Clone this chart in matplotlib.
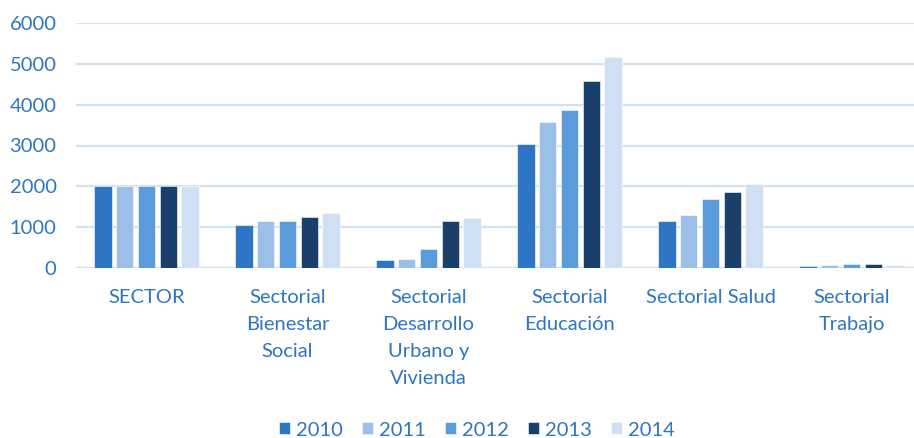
import matplotlib
matplotlib.use("Agg")
import matplotlib.pyplot as plt
import numpy as np

categories = ["SECTOR", "Sectorial\nBienestar\nSocial", "Sectorial\nDesarrollo\nUrbano y\nVivienda",
              "Sectorial\nEducación", "Sectorial Salud", "Sectorial\nTrabajo"]
years = ["2010", "2011", "2012", "2013", "2014"]
v2010 = [2000, 1060, 205, 3040, 1160, 55]
v2011 = [2000, 1150, 220, 3570, 1300, 80]
v2012 = [2000, 1145, 455, 3860, 1680, 100]
v2013 = [2000, 1255, 1150, 4570, 1870, 90]
v2014 = [2000, 1340, 1235, 5160, 2060, 75]
series = [v2010, v2011, v2012, v2013, v2014]
colors = ["#2E75C5", "#9BBFE7", "#5B9ADB", "#1B3F6B", "#CFE0F4"]
yticks = [0, 1000, 2000, 3000, 4000, 5000, 6000]

text_color = "#2F75C2"
plt.rcParams['font.family'] = ['Lato', 'DejaVu Sans']
fs = 14.5

fig = plt.figure(figsize=(9.14, 4.38), dpi=100)
W, H = 914, 438
left, right = 76, 922
bottom, top = 268, 23
ax = fig.add_axes([left / W, 1 - bottom / H, (right - left) / W, (bottom - top) / H])

x = np.arange(len(categories))
bw = 0.122
step = 0.154
for i, (vals, c, yr) in enumerate(zip(series, colors, years)):
    ax.bar(x + (i - 2) * step, vals, width=bw, color=c, label=yr, zorder=3,
           edgecolor="white", linewidth=0.4)

ax.set_xlim(-0.5, len(categories) - 0.5)
ax.set_ylim(0, 6000)
ax.set_yticks(yticks)
ax.set_yticklabels([str(t) for t in yticks], fontsize=fs, color=text_color)
ax.set_xticks(x)
ax.set_xticklabels(categories, fontsize=fs, color=text_color, linespacing=1.72, va="top")
ax.tick_params(axis="both", length=0)
ax.tick_params(axis="x", pad=15)
ax.tick_params(axis="y", pad=14)
ax.grid(axis="y", color="#D3E2F3", linewidth=1.6, zorder=0)
for s in ax.spines.values():
    s.set_visible(False)
ax.axhline(0, color="#D3E2F3", linewidth=1.6, zorder=2)

leg = fig.legend(loc="center", bbox_to_anchor=(477 / W, 1 - 430 / H), ncol=5, frameon=False,
                 fontsize=fs, handlelength=0.55, handleheight=0.55, handletextpad=0.3,
                 columnspacing=0.95)
for t in leg.get_texts():
    t.set_color(text_color)

fig.savefig("out.png", dpi=100)
